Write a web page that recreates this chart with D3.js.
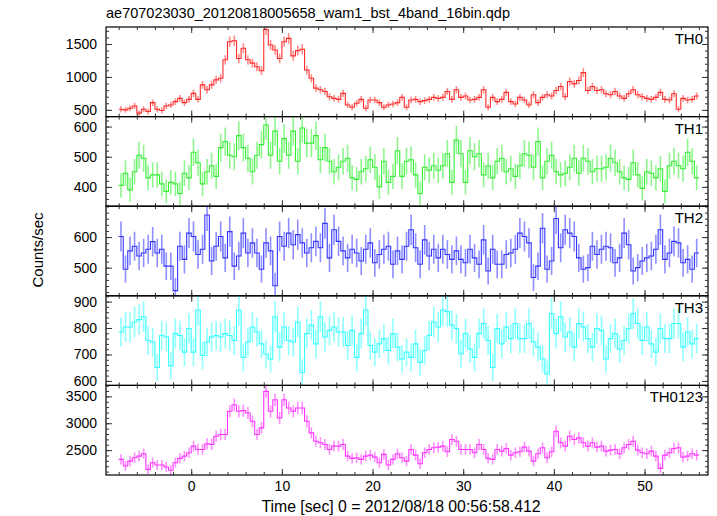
<!DOCTYPE html>
<html><head><meta charset="utf-8">
<script src="https://cdn.jsdelivr.net/npm/d3@7"></script>
<style>body{margin:0;background:#fff}svg{display:block}text{font-family:"Liberation Sans",Arial,sans-serif;fill:#000}</style>
</head><body><svg id="c" width="717" height="516"></svg>
<script>
const titleText = "ae707023030_20120818005658_wam1_bst_4band_16bin.qdp";
const xLabel = "Time [sec] 0 = 2012/08/18 00:56:58.412";
const yLabel = "Counts/sec";
const tStart = -7.75, binWidth = 0.5, errExposure = 0.25;
const xTicksMajor = [0,10,20,30,40,50];
const panelNames = ["TH0","TH1","TH2","TH3","TH0123"];
const panelColors = ["#ff2a2a","#33ee33","#3333ff","#33ffff","#ff33ff"];
const yDomains = [[398,1758],[336,633],[408,701],[583,922],[2037,3704]];
const yMajorTicks = [[500,1000,1500],[400,500,600],[500,600],[600,700,800,900],[2500,3000,3500]];
const yMinorStep = [100,20,20,20,100];

const th0 = [510,500,525,560,450,510,475,610,510,490,560,575,625,675,610,660,750,660,880,805,880,955,980,1260,1535,1550,1280,1435,1260,1210,1155,1095,
1720,1485,1410,1280,1535,1585,1320,1400,1420,1105,980,830,805,780,700,675,660,750,575,540,600,660,525,650,650,610,540,575,590,610,690,540,
650,660,625,640,660,690,675,690,780,660,805,690,710,650,660,690,805,540,690,625,660,765,625,590,690,650,575,730,610,690,730,710,
795,855,700,930,895,945,1065,795,855,795,805,745,730,780,710,675,745,805,730,700,675,660,690,765,660,650,745,510,675,650,660,710];
const th1 = [405,445,390,450,505,495,430,440,440,410,385,415,410,378,445,430,515,480,410,450,470,435,530,550,505,500,570,530,495,450,505,540,
605,505,585,485,560,505,585,485,595,545,545,570,490,530,485,450,465,485,495,430,425,450,460,490,465,400,485,415,435,520,435,485,
490,440,378,465,455,470,455,470,510,415,555,510,415,520,500,510,440,470,430,485,495,450,460,435,470,510,505,465,550,430,485,505,
450,440,445,465,495,445,495,485,450,460,460,465,495,480,450,430,425,480,440,395,450,445,430,460,385,470,485,470,460,515,485,430];
const th2 = [602,495,555,570,538,548,560,585,548,560,505,505,425,570,527,613,602,543,560,672,522,570,602,532,618,505,538,613,548,581,548,495,
581,555,441,602,570,613,575,608,581,548,565,586,565,645,532,624,586,555,532,560,548,522,560,581,516,543,560,570,511,555,527,570,
624,565,511,591,538,560,532,560,543,527,555,527,516,560,532,511,591,489,560,511,511,543,548,560,613,602,581,468,505,629,495,522,
661,565,624,613,602,532,495,500,570,543,560,570,565,516,532,613,575,489,500,522,532,538,560,624,527,548,586,581,516,527,495,548];
const th3 = [785,804,804,823,832,843,753,747,651,772,766,657,779,772,709,798,709,868,696,747,766,772,766,779,772,753,868,689,747,804,785,740,
702,683,843,728,804,753,747,823,632,779,811,740,843,766,791,804,785,785,734,791,689,779,868,734,709,740,760,715,779,728,683,709,
689,740,670,715,772,823,804,868,862,811,798,702,779,721,689,779,817,753,651,798,740,804,760,817,760,760,817,747,728,683,626,855,
779,843,766,785,728,817,804,760,728,798,791,683,760,779,721,753,798,855,817,753,804,740,709,798,760,760,817,817,728,785,740,760];
const th0123 = [2327,2204,2296,2358,2389,2432,2142,2266,2222,2222,2185,2124,2266,2346,2389,2451,2574,2512,2512,2617,2605,2759,2790,2790,3222,3345,3222,3234,3191,3037,2790,2913,
3592,3222,3438,3098,3438,3284,3222,3284,3284,3037,2821,2666,2636,2605,2512,2574,2574,2605,2389,2346,2358,2327,2389,2407,2370,2266,2420,2222,2327,2432,2358,2296,
2512,2407,2247,2451,2512,2543,2556,2574,2469,2697,2666,2512,2512,2512,2451,2605,2512,2346,2327,2512,2481,2531,2407,2451,2469,2556,2481,2296,2432,2543,2358,2469,
2852,2636,2574,2759,2697,2728,2636,2574,2636,2556,2574,2481,2500,2512,2432,2543,2605,2666,2500,2451,2432,2481,2389,2161,2407,2451,2531,2543,2370,2389,2432,2407];
const seriesValues = [th0, th1, th2, th3, th0123];

const svg = d3.select("#c");
const left = 106, right = 708, top0 = 27, panelH = 89.6;
const x = d3.scaleLinear().domain([-9.4, 57.0]).range([left, right]);
const times = th0.map((_, i) => tStart + i * binWidth);
const fontFam = '"Liberation Sans",Arial,sans-serif';

svg.append("text").attr("x", 106).attr("y", 18).attr("font-size", 14.5).text(titleText);

panelNames.forEach((name, p) => {
  const y0 = top0 + p * panelH, y1 = y0 + panelH;
  const y = d3.scaleLinear().domain(yDomains[p]).range([y1, y0]);
  const g = svg.append("g");
  const clipId = "clip" + p;
  svg.append("clipPath").attr("id", clipId).append("rect").attr("x", left).attr("y", y0).attr("width", right - left).attr("height", panelH);
  const vals = seriesValues[p];
  const col = panelColors[p];
  const data = vals.map((v, i) => ({t: times[i], v}));
  const dg = g.append("g").attr("clip-path", `url(#${clipId})`);
  dg.selectAll("line.err").data(data).join("line")
    .attr("x1", d => x(d.t)).attr("x2", d => x(d.t))
    .attr("y1", d => y(d.v - Math.sqrt(d.v / errExposure)))
    .attr("y2", d => y(d.v + Math.sqrt(d.v / errExposure)))
    .attr("stroke", col).attr("stroke-opacity", 0.55).attr("stroke-width", 1.6);
  const stepData = [];
  data.forEach(d => { stepData.push([d.t - binWidth/2, d.v]); stepData.push([d.t + binWidth/2, d.v]); });
  dg.append("path").attr("d", d3.line().x(d => x(d[0])).y(d => y(d[1]))(stepData))
    .attr("fill", "none").attr("stroke", col).attr("stroke-width", 1.1);

  g.append("rect").attr("x", left).attr("y", y0).attr("width", right - left).attr("height", panelH)
    .attr("fill", "none").attr("stroke", "#000").attr("stroke-width", 1.2);
  const yMinor = d3.range(Math.ceil(yDomains[p][0] / yMinorStep[p]) * yMinorStep[p], yDomains[p][1], yMinorStep[p]);
  [[d3.axisRight, left], [d3.axisLeft, right]].forEach(([fn, xx]) => {
    [[yMinor, 3], [yMajorTicks[p], 6]].forEach(([tv, sz]) => {
      const ag = g.append("g").attr("transform", `translate(${xx},0)`).call(fn(y).tickValues(tv).tickSize(sz).tickFormat(""));
      ag.select(".domain").remove(); ag.selectAll("line").attr("stroke", "#333");
    });
  });
  const lab = d3.axisLeft(y).tickValues(yMajorTicks[p]).tickSize(0).tickPadding(9).tickFormat(d3.format("d"));
  const lg = g.append("g").attr("transform", `translate(${left},0)`).call(lab);
  lg.select(".domain").remove();
  lg.selectAll("text").attr("font-size", 14).attr("font-family", fontFam).attr("fill", "#000");

  const xMinor = d3.range(-8, 57, 2);
  [[d3.axisBottom, y0], [d3.axisTop, y1]].forEach(([fn, yy]) => {
    [[xMinor, 3], [xTicksMajor, 6]].forEach(([tv, sz]) => {
      const ag = g.append("g").attr("transform", `translate(0,${yy})`).call(fn(x).tickValues(tv).tickSize(sz).tickFormat(""));
      ag.select(".domain").remove(); ag.selectAll("line").attr("stroke", "#333");
    });
  });
  g.append("text").attr("x", 703).attr("y", y0 + 17).attr("text-anchor", "end").attr("font-size", 15).text(name);
  if (p === panelNames.length - 1) {
    const xl = g.append("g").attr("transform", `translate(0,${y1})`).call(d3.axisBottom(x).tickValues(xTicksMajor).tickSize(0).tickPadding(6).tickFormat(d3.format("d")));
    xl.select(".domain").remove();
    xl.selectAll("text").attr("font-size", 14).attr("font-family", fontFam).attr("fill", "#000");
  }
});

svg.append("text").attr("x", 401).attr("y", 512).attr("text-anchor", "middle").attr("font-size", 15.8).text(xLabel);
svg.append("text").attr("transform", "translate(43,250) rotate(-90)").attr("text-anchor", "middle").attr("font-size", 15).text(yLabel);
</script></body></html>
